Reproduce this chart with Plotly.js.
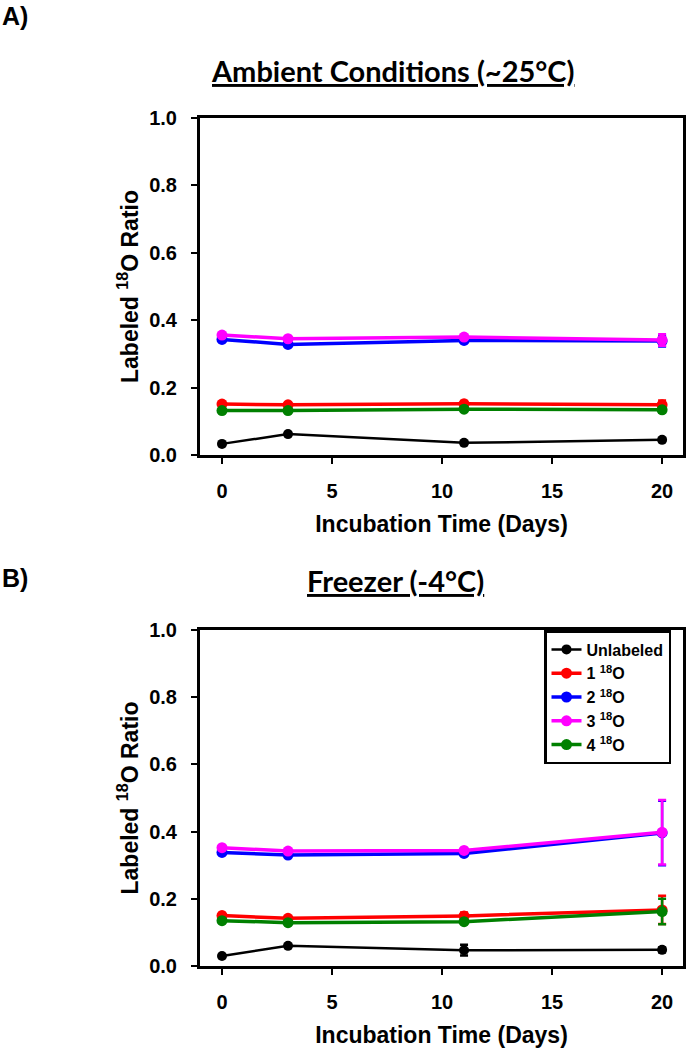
<!DOCTYPE html>
<html>
<head>
<meta charset="utf-8">
<script src="https://cdn.plot.ly/plotly-3.0.1.min.js"></script>
<style>body{margin:0;background:white}</style>
</head>
<body>
<div id="myDiv" style="width:688px;height:1050px"></div>
<script>
// incubation days
let days = [0, 3, 11, 20];

let seriesNames = ['Unlabeled', '1 <sup>18</sup>O', '2 <sup>18</sup>O', '3 <sup>18</sup>O', '4 <sup>18</sup>O'];
let seriesColors = ['#000000', '#ff0000', '#0000ff', '#ff00ff', '#008000'];

// A) ambient conditions (~25°C)
let ambUnlabeled = [0.033, 0.062, 0.036, 0.045];
let ambO1 = [0.151, 0.149, 0.152, 0.149];
let ambO2 = [0.343, 0.328, 0.340, 0.338];
let ambO3 = [0.356, 0.345, 0.350, 0.341];
let ambO4 = [0.132, 0.132, 0.136, 0.134];
let ambUnlabeledErr = [0.003, 0.004, 0.003, 0.005];
let ambO1Err = [0.006, 0.005, 0.008, 0.013];
let ambO2Err = [0.004, 0.005, 0.004, 0.016];
let ambO3Err = [0.004, 0.004, 0.005, 0.017];
let ambO4Err = [0.004, 0.004, 0.005, 0.008];

// B) freezer (-4°C)
let frzUnlabeled = [0.030, 0.060, 0.047, 0.048];
let frzO1 = [0.150, 0.142, 0.149, 0.167];
let frzO2 = [0.338, 0.330, 0.335, 0.396];
let frzO3 = [0.352, 0.342, 0.344, 0.398];
let frzO4 = [0.135, 0.129, 0.132, 0.162];
let frzUnlabeledErr = [0.003, 0.004, 0.016, 0.007];
let frzO1Err = [0.008, 0.005, 0.010, 0.042];
let frzO2Err = [0.004, 0.004, 0.004, 0.096];
let frzO3Err = [0.004, 0.004, 0.004, 0.096];
let frzO4Err = [0.004, 0.004, 0.004, 0.038];

let W = 688, H = 1050;
function px(x) { return x / W; }
function py(y) { return 1 - y / H; }

let arial = 'Liberation Sans, Arial, sans-serif';
let calibri = 'Lato, Carlito, Calibri, sans-serif';

function makeTrace(i, y, err, xa, ya, legend) {
    return {
        type: 'scatter',
        mode: 'lines+markers',
        x: days,
        y: y,
        xaxis: xa,
        yaxis: ya,
        name: seriesNames[i],
        showlegend: legend,
        line: {color: seriesColors[i], width: i == 0 ? 2.5 : 3.5},
        marker: {color: seriesColors[i], size: i == 0 ? 10 : 11},
        error_y: {type: 'data', array: err, visible: true, color: seriesColors[i], thickness: 2.5, width: 4}
    };
}

let data = [
    makeTrace(0, ambUnlabeled, ambUnlabeledErr, 'x', 'y', false),
    makeTrace(1, ambO1, ambO1Err, 'x', 'y', false),
    makeTrace(2, ambO2, ambO2Err, 'x', 'y', false),
    makeTrace(3, ambO3, ambO3Err, 'x', 'y', false),
    makeTrace(4, ambO4, ambO4Err, 'x', 'y', false),
    makeTrace(0, frzUnlabeled, frzUnlabeledErr, 'x2', 'y2', true),
    makeTrace(1, frzO1, frzO1Err, 'x2', 'y2', true),
    makeTrace(2, frzO2, frzO2Err, 'x2', 'y2', true),
    makeTrace(3, frzO3, frzO3Err, 'x2', 'y2', true),
    makeTrace(4, frzO4, frzO4Err, 'x2', 'y2', true)
];

let tickFont = {family: arial, size: 20, weight: 'bold', color: 'black'};
let titleFont = {family: arial, size: 23, weight: 'bold', color: 'black'};

function xAxis(anchor) {
    return {
        anchor: anchor,
        domain: [px(200), px(683)],
        range: [-1, 20.95],
        tickvals: [0, 5, 10, 15, 20],
        showline: true, mirror: true, linecolor: 'black', linewidth: 3,
        ticks: 'outside', ticklen: 6, tickwidth: 2, tickcolor: 'black',
        ticklabelstandoff: 10,
        showgrid: false, zeroline: false,
        tickfont: tickFont,
        title: {text: 'Incubation Time (Days)', font: titleFont, standoff: 15}
    };
}

function yAxis(anchor, top, bottom) {
    return {
        anchor: anchor,
        domain: [py(bottom), py(top)],
        range: [0, 1],
        tickvals: [0, 0.2, 0.4, 0.6, 0.8, 1.0],
        tickformat: '.1f',
        showline: true, mirror: true, linecolor: 'black', linewidth: 3,
        ticks: 'outside', ticklen: 6, tickwidth: 2, tickcolor: 'black',
        ticklabelstandoff: 10,
        showgrid: false, zeroline: false,
        tickfont: tickFont,
        title: {text: 'Labeled <sup>18</sup>O Ratio', font: titleFont, standoff: 5}
    };
}

let layout = {
    width: W,
    height: H,
    margin: {l: 0, r: 0, t: 0, b: 0},
    paper_bgcolor: 'white',
    plot_bgcolor: 'white',
    xaxis: xAxis('y'),
    yaxis: yAxis('x', 118, 455),
    xaxis2: xAxis('y2'),
    yaxis2: yAxis('x2', 630, 966),
    showlegend: true,
    legend: {
        x: px(544), y: py(630), xanchor: 'left', yanchor: 'top',
        bordercolor: 'black', borderwidth: 2.5, bgcolor: 'white',
        font: {family: arial, size: 16, weight: 'bold', color: 'black'},
        tracegroupgap: 0
    },
    annotations: [
        {text: 'A)', x: 0, y: py(16), xref: 'paper', yref: 'paper', xanchor: 'left', yanchor: 'middle', showarrow: false, font: {family: arial, size: 25, weight: 'bold', color: 'black'}},
        {text: '<u>Ambient Conditions (~25°C)</u>', x: px(393), y: py(71), xref: 'paper', yref: 'paper', xanchor: 'center', yanchor: 'middle', showarrow: false, font: {family: calibri, size: 29, weight: 'bold', color: 'black'}},
        {text: 'B)', x: 0, y: py(578), xref: 'paper', yref: 'paper', xanchor: 'left', yanchor: 'middle', showarrow: false, font: {family: arial, size: 25, weight: 'bold', color: 'black'}},
        {text: '<u>Freezer (-4°C)</u>', x: px(395), y: py(580), xref: 'paper', yref: 'paper', xanchor: 'center', yanchor: 'middle', showarrow: false, font: {family: calibri, size: 29, weight: 'bold', color: 'black'}}
    ]
};

Plotly.newPlot('myDiv', data, layout, {displayModeBar: false, staticPlot: true});
</script>
</body>
</html>
